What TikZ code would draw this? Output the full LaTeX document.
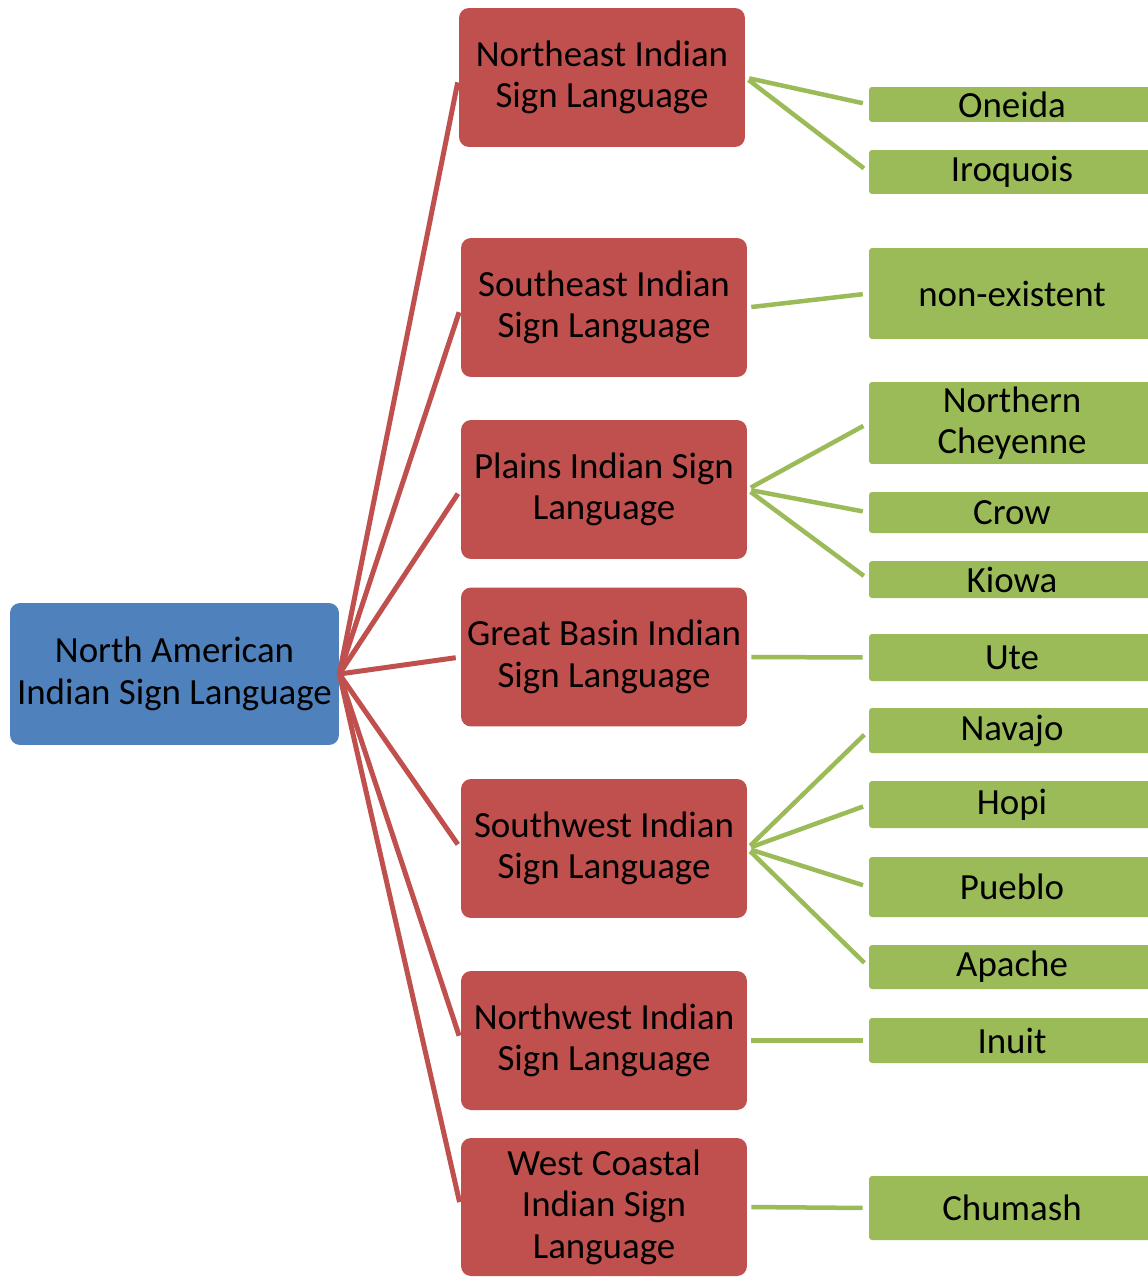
\documentclass[tikz,border=0pt]{standalone}
\usepackage{fontspec}
\setmainfont{Carlito}
\definecolor{rootblue}{HTML}{4F81BD}
\definecolor{regionred}{HTML}{C0504D}
\definecolor{tribegreen}{HTML}{9BBB59}
\begin{document}
\begin{tikzpicture}[x=0.02cm, y=-0.02cm,
  every node/.style={font=\fontsize{21}{23.6}\selectfont, align=center, inner sep=0pt, text=black},
  rootbox/.style={fill=rootblue, rounded corners=0.2cm, minimum width=6.58cm, minimum height=2.84cm},
  regionbox/.style={fill=regionred, rounded corners=0.2cm, minimum width=5.72cm, minimum height=2.78cm},
  tribebox/.style={fill=tribegreen, rounded corners=0.06cm, minimum width=5.72cm},
  redlink/.style={draw=regionred, line width=0.1cm, shorten >=0.1cm},
  greenlink/.style={draw=tribegreen, line width=0.09cm, shorten <=0.08cm, shorten >=0.12cm}]
\useasboundingbox (0,0) rectangle (1148,1277);
\clip (0,0) rectangle (1148,1277);

% root
\node[rootbox] (root) at (174.5,674) {North American\\Indian Sign Language};

% regional sign languages
\node[regionbox] (ne) at (602,77.5) {Northeast Indian\\Sign Language};
\node[regionbox] (se) at (604,307.5) {Southeast Indian\\Sign Language};
\node[regionbox] (pl) at (604,489.5) {Plains Indian Sign\\Language};
\node[regionbox] (gb) at (604,657) {Great Basin Indian\\Sign Language};
\node[regionbox] (sw) at (604,848.5) {Southwest Indian\\Sign Language};
\node[regionbox] (nw) at (604,1040.5) {Northwest Indian\\Sign Language};
\node[regionbox, minimum height=2.76cm] (wc) at (604,1207) {West Coastal\\Indian Sign\\Language};

% peoples
\node[tribebox, minimum height=0.70cm] (oneida) at (1012,104.5) {Oneida};
\node[tribebox, minimum height=0.88cm] (iroquois) at (1012,172) {Iroquois};
\node[tribebox, minimum height=1.82cm] (nonex) at (1012,293.5) {non-existent};
\node[tribebox, minimum height=1.64cm] (cheyenne) at (1012,423) {Northern\\Cheyenne};
\node[tribebox, minimum height=0.82cm] (crow) at (1012,512.5) {Crow};
\node[tribebox, minimum height=0.74cm] (kiowa) at (1012,579.5) {Kiowa};
\node[tribebox, minimum height=0.94cm] (ute) at (1012,657.5) {Ute};
\node[tribebox, minimum height=0.90cm] (navajo) at (1012,730.5) {Navajo};
\node[tribebox, minimum height=0.94cm] (hopi) at (1012,804.5) {Hopi};
\node[tribebox, minimum height=1.20cm] (pueblo) at (1012,887) {Pueblo};
\node[tribebox, minimum height=0.88cm] (apache) at (1012,967) {Apache};
\node[tribebox, minimum height=0.90cm] (inuit) at (1012,1040.5) {Inuit};
\node[tribebox, minimum height=1.28cm] (chumash) at (1012,1208) {Chumash};

% root to regions
\foreach \r in {ne,se,pl,gb,sw,nw,wc}
  \draw[redlink] (root.east) -- (\r.west);

% regions to peoples
\draw[greenlink] (ne.east) -- (oneida.west);
\draw[greenlink] (ne.east) -- (iroquois.west);
\draw[greenlink] (se.east) -- (nonex.west);
\draw[greenlink] (pl.east) -- (cheyenne.west);
\draw[greenlink] (pl.east) -- (crow.west);
\draw[greenlink] (pl.east) -- (kiowa.west);
\draw[greenlink] (gb.east) -- (ute.west);
\draw[greenlink] (sw.east) -- (navajo.west);
\draw[greenlink] (sw.east) -- (hopi.west);
\draw[greenlink] (sw.east) -- (pueblo.west);
\draw[greenlink] (sw.east) -- (apache.west);
\draw[greenlink] (nw.east) -- (inuit.west);
\draw[greenlink] (wc.east) -- (chumash.west);
\end{tikzpicture}
\end{document}
